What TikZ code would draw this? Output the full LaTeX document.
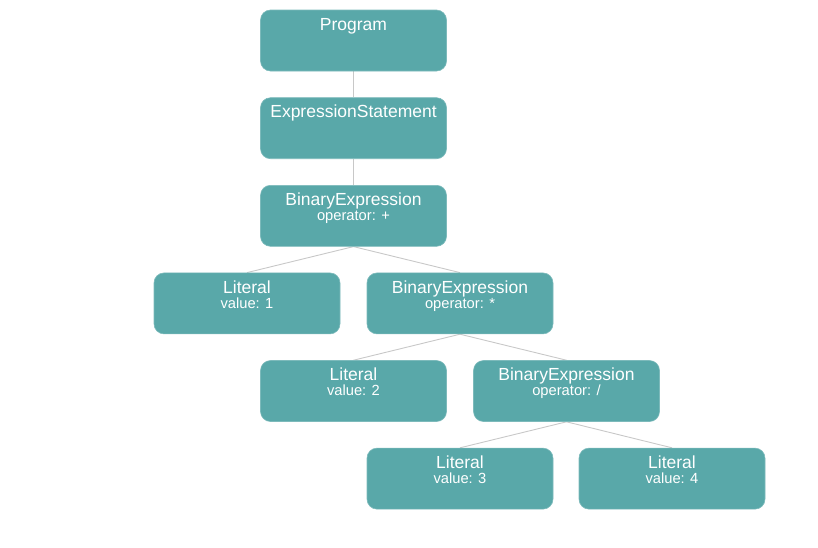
\documentclass[tikz,border=0pt]{standalone}
\usepackage{fontspec}
\setmainfont{Liberation Sans}
\usetikzlibrary{backgrounds}
\definecolor{boxfill}{HTML}{59A8A9}
\definecolor{boxedge}{HTML}{7DBABB}
\definecolor{linegray}{HTML}{C8C8C8}
\tikzset{
  astbox/.style={fill=boxfill, draw=boxedge, line width=0.6pt, rounded corners=10pt,
    minimum width=186pt, minimum height=61pt, inner sep=0pt},
  ttl/.style={anchor=base, text=white, inner sep=0pt, font=\fontsize{17.5}{20}\selectfont},
  sub/.style={anchor=base, text=white, inner sep=0pt, font=\fontsize{14.7}{17}\selectfont},
  conn/.style={draw=linegray, line width=0.9pt}
}
\begin{document}
\begin{tikzpicture}[x=1pt,y=-1pt]
\useasboundingbox (0,0) rectangle (818,547);
% boxes
\node[astbox] (prog) at (353.5,40.5) {};
\node[astbox] (es)   at (353.5,128.2) {};
\node[astbox] (bin1) at (353.5,215.8) {};
\node[astbox] (lit1) at (247,303.4) {};
\node[astbox] (bin2) at (460,303.4) {};
\node[astbox] (lit2) at (353.5,391) {};
\node[astbox] (bin3) at (566.5,391) {};
\node[astbox] (lit3) at (460,478.6) {};
\node[astbox] (lit4) at (672,478.6) {};
% labels
\node[ttl] (progt) at ([yshift=-20.5pt]prog.north) {Program};
\node[ttl] (est)   at ([yshift=-20.5pt]es.north) {ExpressionStatement};
\node[ttl] (bin1t) at ([yshift=-20.5pt]bin1.north) {BinaryExpression};
\node[sub] (bin1s) at ([yshift=-35.5pt]bin1.north) {operator: +};
\node[ttl] (lit1t) at ([yshift=-20.5pt]lit1.north) {Literal};
\node[sub] (lit1s) at ([yshift=-35.5pt]lit1.north) {value: 1};
\node[ttl] (bin2t) at ([yshift=-20.5pt]bin2.north) {BinaryExpression};
\node[sub] (bin2s) at ([yshift=-35.5pt]bin2.north) {operator: *};
\node[ttl] (lit2t) at ([yshift=-20.5pt]lit2.north) {Literal};
\node[sub] (lit2s) at ([yshift=-35.5pt]lit2.north) {value: 2};
\node[ttl] (bin3t) at ([yshift=-20.5pt]bin3.north) {BinaryExpression};
\node[sub] (bin3s) at ([yshift=-35.5pt]bin3.north) {operator: /};
\node[ttl] (lit3t) at ([yshift=-20.5pt]lit3.north) {Literal};
\node[sub] (lit3s) at ([yshift=-35.5pt]lit3.north) {value: 3};
\node[ttl] (lit4t) at ([yshift=-20.5pt]lit4.north) {Literal};
\node[sub] (lit4s) at ([yshift=-35.5pt]lit4.north) {value: 4};
% connectors
\begin{scope}[on background layer]
\draw[conn] (prog.south) -- (es.north);
\draw[conn] (es.south) -- (bin1.north);
\draw[conn] (bin1.south) -- (lit1.north);
\draw[conn] (bin1.south) -- (bin2.north);
\draw[conn] (bin2.south) -- (lit2.north);
\draw[conn] (bin2.south) -- (bin3.north);
\draw[conn] (bin3.south) -- (lit3.north);
\draw[conn] (bin3.south) -- (lit4.north);
\end{scope}
\end{tikzpicture}
\end{document}
